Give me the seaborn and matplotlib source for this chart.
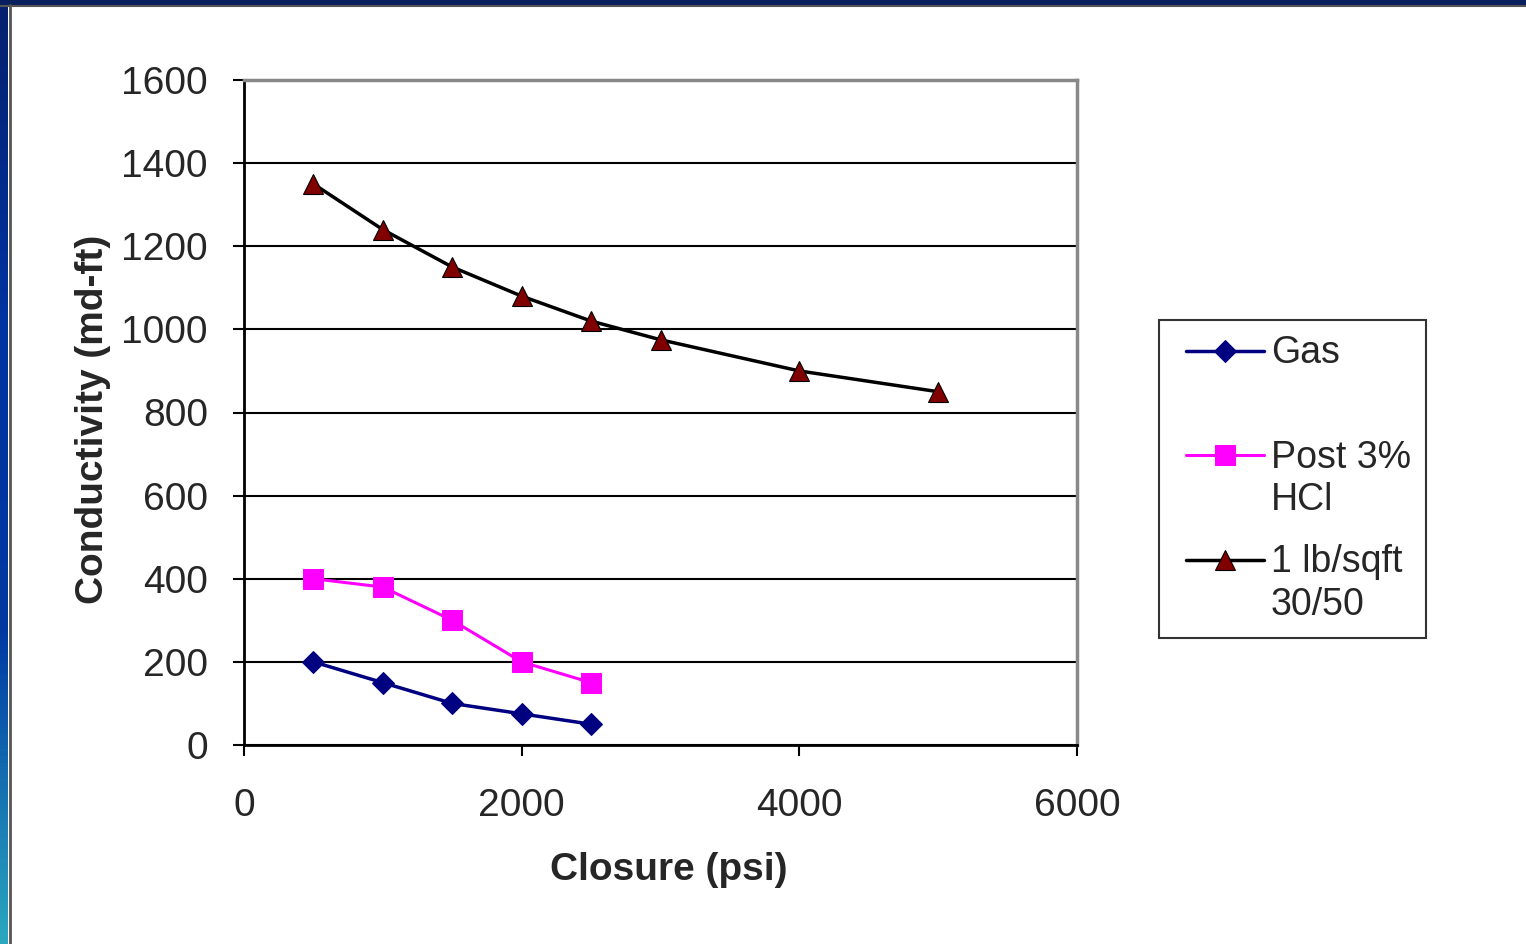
import matplotlib.pyplot as plt
import numpy as np
import seaborn as sns
from matplotlib.colors import LinearSegmentedColormap
from matplotlib.legend_handler import HandlerLine2D
from matplotlib.lines import Line2D

# Data
closure_gas = [500, 1000, 1500, 2000, 2500]
cond_gas = [200, 150, 100, 75, 50]

closure_hcl = [500, 1000, 1500, 2000, 2500]
cond_hcl = [400, 380, 300, 200, 150]

closure_sand = [500, 1000, 1500, 2000, 2500, 3000, 4000, 5000]
cond_sand = [1350, 1240, 1150, 1080, 1020, 975, 900, 850]

labels = ["Gas\n ", "Post 3%\nHCl", "1 lb/sqft\n30/50"]
x_ticks = [0, 2000, 4000, 6000]
y_ticks = list(range(0, 1601, 200))

W, H = 1526, 944
sns.set_style("white")
plt.rcParams["font.family"] = ["Liberation Sans", "DejaVu Sans"]

fig = plt.figure(figsize=(W / 100, H / 100), dpi=100)
fig.patch.set_facecolor("white")

# slide frame: blue gradient stripe on the left, navy bar on top
grad = fig.add_axes([0, 0, 8 / W, 1])
cmap = LinearSegmentedColormap.from_list("edge", ["#06206e", "#0033a0", "#0038a2", "#2aa8c0"])
grad.imshow(np.linspace(0, 1, 256).reshape(-1, 1), aspect="auto", cmap=cmap)
grad.axis("off")
fig.add_artist(plt.Rectangle((0, 1 - 4 / H), 1, 4 / H, transform=fig.transFigure,
                             color="#0a1f5e", zorder=5))
fig.add_artist(plt.Line2D([0, 1], [1 - 5.5 / H] * 2, transform=fig.transFigure,
                          color="#555555", lw=1.5, zorder=5))
fig.add_artist(plt.Line2D([10 / W] * 2, [0, 1 - 5 / H], transform=fig.transFigure,
                          color="#555555", lw=2, zorder=5))

ax = fig.add_axes([244 / W, 1 - 745 / H, (1077 - 244) / W, (745 - 80) / H])

sns.lineplot(x=closure_gas, y=cond_gas, ax=ax, color="#000080", lw=2.5,
             marker="D", markersize=11, markeredgecolor="#000080", label=labels[0])
sns.lineplot(x=closure_hcl, y=cond_hcl, ax=ax, color="#ff00ff", lw=2.2,
             marker="s", markersize=14, markeredgecolor="#ff00ff", label=labels[1])
sns.lineplot(x=closure_sand, y=cond_sand, ax=ax, color="black", lw=2.5,
             marker="^", markersize=14, markerfacecolor="#800000",
             markeredgecolor="black", markeredgewidth=0.8, label=labels[2])

ax.set_xlim(0, 6000)
ax.set_ylim(0, 1600)
ax.set_xticks(x_ticks)
ax.set_yticks(y_ticks)
ax.yaxis.grid(True, color="black", lw=1.5)
ax.set_axisbelow(True)

for side in ["left", "bottom"]:
    ax.spines[side].set_color("black")
    ax.spines[side].set_linewidth(2)
for side in ["top", "right"]:
    ax.spines[side].set_color("#888888")
    ax.spines[side].set_linewidth(2.5)

ax.tick_params(axis="both", direction="out", length=8, width=1.5, color="black",
               labelsize=28, left=True, bottom=True)
ax.tick_params(axis="y", pad=18)
ax.tick_params(axis="x", pad=23)

ax.set_xlabel("Closure (psi)", fontsize=28, fontweight="bold")
ax.set_ylabel("Conductivity (md-ft)", fontsize=28, fontweight="bold")
ax.xaxis.set_label_coords(0.51, -0.1605)
ax.yaxis.set_label_coords(-0.160, 0.49)

leg = ax.legend(loc="upper left", bbox_to_anchor=(1159 / W, 1 - 320 / H),
                bbox_transform=fig.transFigure, borderaxespad=0, fontsize=27,
                frameon=True, fancybox=False, shadow=False, handlelength=2.4,
                handletextpad=0.18, handleheight=1.2, labelspacing=0.68,
                borderpad=0.40,
                handler_map={Line2D: HandlerLine2D(xpad=0.32)})
leg.get_frame().set_edgecolor("black")
leg.get_frame().set_linewidth(1.5)
for t in leg.get_texts():
    t.set_linespacing(1.25)
# align markers with the first line of each label
for col in leg._legend_handle_box.get_children():
    for row in col.get_children():
        row.align = "top"

fig.savefig("out.png", dpi=100, facecolor="white")
